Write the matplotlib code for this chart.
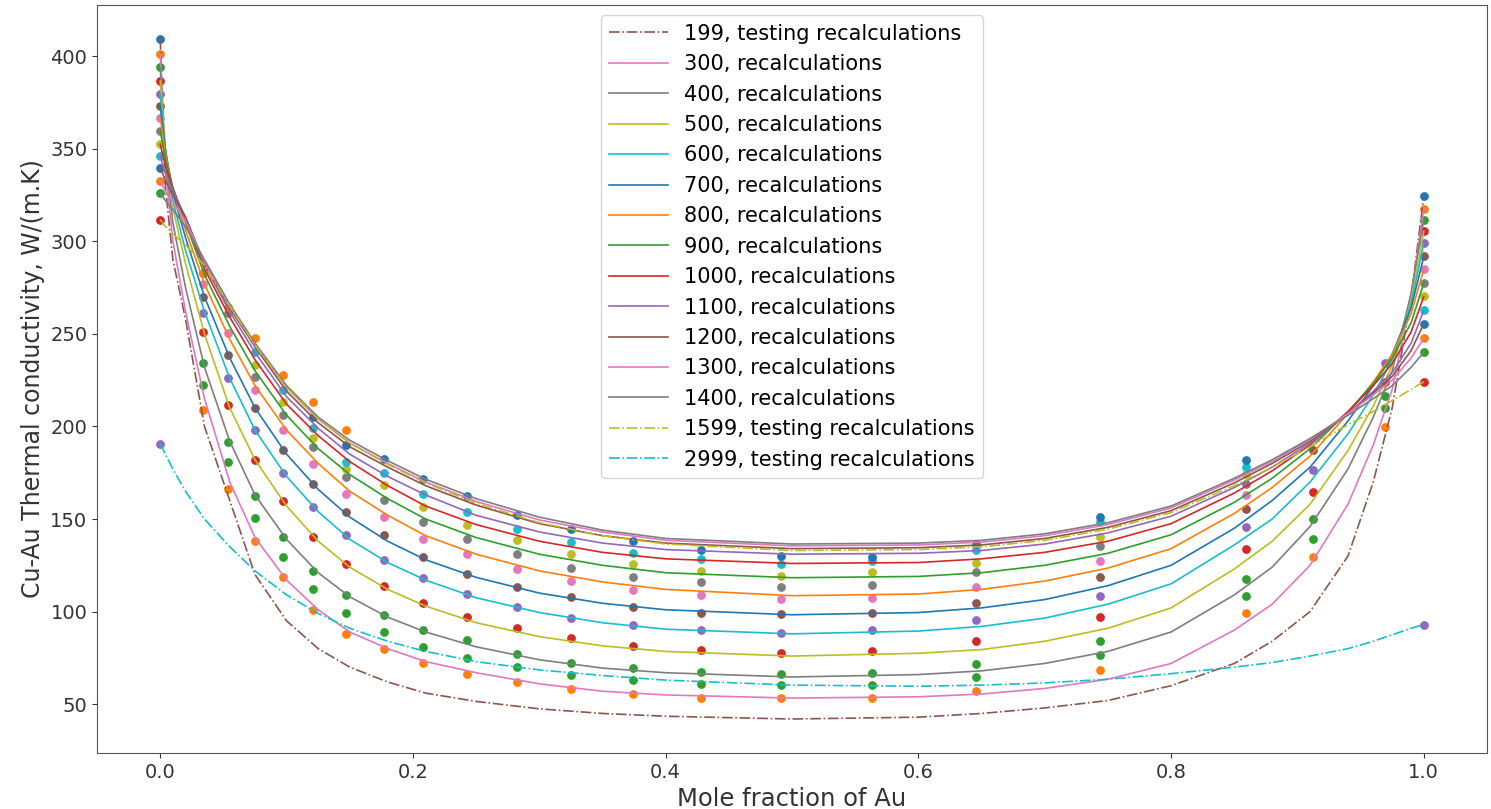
import numpy as np
import matplotlib
matplotlib.use("Agg")
import matplotlib.pyplot as plt

nan = np.nan

temps = [199, 300, 400, 500, 600, 700, 800, 900, 1000, 1100, 1200, 1300, 1400, 1599, 2999]
labels = ["199, testing recalculations", "300, recalculations", "400, recalculations",
          "500, recalculations", "600, recalculations", "700, recalculations",
          "800, recalculations", "900, recalculations", "1000, recalculations",
          "1100, recalculations", "1200, recalculations", "1300, recalculations",
          "1400, recalculations", "1599, testing recalculations",
          "2999, testing recalculations"]

# measured points, mole fraction of Au
x_pts = [0.0, 0.034, 0.054, 0.075, 0.097, 0.121, 0.147, 0.177, 0.208, 0.243, 0.282,
         0.325, 0.374, 0.428, 0.491, 0.563, 0.646, 0.744, 0.859, 0.912, 0.969, 1.0]

k_pts = {
    199:  [409.2, nan, nan, nan, nan, nan, nan, nan, nan, nan, nan,
           nan, nan, nan, nan, nan, nan, nan, nan, nan, nan, 324.3],
    300:  [401.1, 208.8, 166.4, 138.0, 118.5, 101.0, 88.0, 80.0, 72.4, 66.5, 62.2,
           58.0, 55.3, 53.5, 53.1, 53.5, 57.1, 68.3, 99.4, 129.3, 199.7, 317.5],
    400:  [393.9, 234.0, 191.6, 162.2, 140.5, 122.1, 109.0, 98.0, 90.0, 84.5, 77.3,
           72.4, 69.4, 67.6, 66.1, 66.7, 71.9, 84.2, 117.6, 150.1, 216.4, 311.7],
    500:  [386.6, 251.2, 211.5, 181.7, 159.6, 140.1, 125.7, 114.0, 104.4, 97.2, 91.1,
           85.6, 81.5, 79.1, 77.8, 78.7, 84.2, 97.2, 133.8, 164.5, 224.1, 305.4],
    600:  [379.4, 261.2, 226.0, 197.9, 174.8, 156.4, 141.1, 127.9, 118.1, 109.5, 102.6,
           96.8, 92.8, 90.0, 88.7, 90.0, 95.4, 108.6, 145.6, 176.6, 234.0, 299.1],
    700:  [373.1, 270.0, 238.6, 209.7, 187.5, 169.0, 153.7, 141.1, 129.7, 120.3, 113.4,
           107.7, 102.6, 99.5, 98.7, 99.5, 104.4, 118.5, 155.5, 187.1, nan, 291.8],
    800:  [366.8, 277.0, 250.3, 219.6, 198.0, 179.9, 163.6, 151.0, 139.3, 131.1, 123.0,
           116.7, 111.6, 109.1, 106.8, 107.6, 113.4, 127.5, 162.7, nan, nan, 285.0],
    900:  [359.5, 283.0, 261.1, 226.8, 206.1, 188.9, 172.6, 160.0, 148.3, 139.3, 131.2,
           123.6, 118.5, 115.8, 113.1, 114.5, 121.2, 135.3, 169.1, nan, nan, 277.4],
    1000: [352.3, nan, nan, 233.0, 213.3, 194.0, 177.0, 168.1, 156.4, 146.5, 138.4,
           131.1, 125.7, 121.7, 119.4, 121.2, 126.1, 140.1, 174.4, nan, nan, 270.2],
    1100: [346.0, nan, nan, 240.4, 219.6, 199.0, 181.0, 174.8, 163.6, 153.7, 144.7,
           137.4, 131.5, 128.4, 125.7, 127.5, 133.0, 148.3, 178.0, nan, nan, 262.6],
    1200: [339.7, nan, nan, nan, nan, 205.1, 189.8, 182.6, 171.8, 162.2, 151.9,
           144.7, 138.0, 133.3, 130.2, 129.3, 136.6, 150.9, 181.7, nan, nan, 255.4],
    1300: [332.5, 283.0, 264.7, 247.6, 227.7, 213.3, 197.9, nan, nan, nan, nan,
           nan, nan, nan, nan, nan, nan, nan, nan, nan, nan, 247.6],
    1400: [326.2, 222.3, 180.8, 150.6, 129.7, 112.0, 99.0, 89.0, 81.1, 74.8, 70.1,
           65.8, 62.9, 60.7, 60.3, 60.6, 64.7, 76.6, 108.6, 139.3, 209.7, 240.0],
    1599: [311.7, nan, nan, nan, nan, nan, nan, nan, nan, nan, nan,
           nan, nan, nan, nan, nan, nan, nan, nan, nan, nan, 224.1],
    2999: [190.7, nan, nan, nan, nan, nan, nan, nan, nan, nan, nan,
           nan, nan, nan, nan, nan, nan, nan, nan, nan, nan, 93.0],
}

# recalculated curves
x_fit = [0.0, 0.004, 0.01, 0.02, 0.035, 0.055, 0.075, 0.1, 0.125, 0.15, 0.18, 0.21, 0.25,
         0.3, 0.35, 0.4, 0.5, 0.6, 0.65, 0.7, 0.75, 0.8, 0.85, 0.88, 0.91, 0.94, 0.96,
         0.975, 0.99, 1.0]

k_fit = {
    199:  [409.2, 330, 290, 258, 200, 160, 120, 95, 80, 70, 62, 56, 51.5,
           47.5, 45, 43.5, 42, 43, 45, 48, 52, 60, 72, 84, 100, 130, 170,
           210, 270, 324.3],
    300:  [401.1, 340, 300, 262, 215, 170, 140, 117, 101, 89, 80, 73, 67,
           61, 57, 55, 53.3, 54, 55.5, 58.5, 63.5, 72, 90, 104, 125, 158, 190,
           220, 270, 317.5],
    400:  [393.9, 345, 310, 275, 232, 192, 163, 139, 121, 108, 97, 89, 81,
           74, 69.5, 67, 64.7, 66, 68, 72, 78.5, 89, 109, 124, 146, 177, 205,
           230, 272, 311.7],
    500:  [386.6, 350, 318, 288, 250, 210, 182, 157, 138, 124, 112, 103, 94,
           86.5, 81.5, 78.5, 76, 77.5, 79.5, 84, 91, 102, 123, 138, 158, 187, 211,
           233, 268, 305.4],
    600:  [379.4, 350, 322, 295, 262, 226, 198, 173, 154, 139, 126.5, 117, 107.5,
           99.5, 94, 90.5, 88, 89.5, 92, 96.5, 104, 115, 136, 150, 170, 196, 217,
           236, 266, 299.1],
    700:  [373.1, 350, 326, 302, 270, 237, 210, 185, 166, 151, 138, 128, 118.5,
           110, 104.5, 101, 98.3, 99.5, 102, 106.5, 114, 125, 145, 160, 178, 203, 222,
           239, 264, 291.8],
    800:  [366.8, 348, 328, 306, 277, 247, 222, 198, 180, 165, 152, 141, 131,
           122, 116, 112, 108.6, 109.5, 112, 116.5, 123.5, 134, 153, 167, 184, 207, 224,
           239, 261, 285.0],
    900:  [359.5, 345, 329, 310, 282, 254, 230, 206, 188, 174, 161, 150, 140,
           131, 125, 121, 118.3, 119, 121, 125, 131.5, 141.5, 159, 172, 188, 208, 223,
           237, 256, 277.4],
    1000: [352.3, 341, 328, 312, 285, 259, 236, 212, 195, 181, 168, 157, 147,
           138, 132, 128.5, 126, 126.5, 128.5, 132, 138, 147.5, 164, 176, 190, 208, 222,
           234, 251, 270.2],
    1100: [346.0, 337, 327, 313, 287, 262, 240, 216, 199, 185, 173, 163, 152,
           143, 137, 133.5, 131, 131.5, 133, 136.5, 142.5, 151.5, 167, 178, 191, 207, 219,
           229, 245, 262.6],
    1200: [339.7, 333, 325, 313, 288, 264, 243, 219, 202, 189, 178, 168, 157.5,
           147.5, 141, 137, 134, 134.5, 136, 139.5, 145.5, 154.5, 169.5, 180, 192, 207, 218,
           227, 241, 255.4],
    1300: [332.5, 327, 321, 311, 289, 265, 244, 221, 204, 191, 180, 170, 159.5,
           149.5, 143, 138.5, 135.5, 136, 137.5, 141, 147, 156, 171, 181, 193, 207, 217,
           225, 237, 247.6],
    1400: [326.2, 322, 317, 308, 290, 266, 245, 222, 205, 192.5, 181.5, 171.5, 161,
           151, 144, 139.5, 136.5, 137, 138.5, 142, 148, 157, 172, 182, 193.5, 206, 215,
           222, 232, 240.0],
    1599: [311.7, 308, 304, 298, 287, 265, 244, 221, 204, 191, 179.5, 169.5, 158.5,
           148, 141, 136.5, 133, 133.5, 135, 138.5, 144.5, 153.5, 168, 178, 189, 201, 208,
           214, 220, 224.1],
    2999: [190.7, 185, 177, 165, 150, 135, 122, 109, 99, 91, 84, 78.5, 73,
           68.5, 65.5, 63, 60.3, 59.7, 60.3, 61.5, 63.5, 66.5, 70, 72.5, 76, 80, 84,
           87.5, 91, 93.0],
}

testing = {199, 1599, 2999}

plt.rcParams['font.family'] = ['DejaVu Sans']
fig = plt.figure(figsize=(14.91, 8.09), dpi=100)
ax = fig.add_axes([0.0651, 0.0692, 0.9322, 0.9246])

# points take C0..C14 of the cycle, the curves carry on from C15
n = len(temps)
for i, t in enumerate(temps):
    ax.scatter(x_pts, k_pts[t], s=28, color='C%d' % (i % 10), zorder=2)
for i, (t, lab) in enumerate(zip(temps, labels)):
    ls = '-.' if t in testing else '-'
    ax.plot(x_fit, k_fit[t], ls, lw=1.2, color='C%d' % ((i + n) % 10),
            label=lab, zorder=3)

ax.set_xlabel('Mole fraction of Au', fontsize=17.5, color='#333333')
ax.set_ylabel('Cu-Au Thermal conductivity, W/(m.K)', fontsize=17, color='#333333')
ax.tick_params(labelsize=14, colors='#333333')
for sp in ax.spines.values():
    sp.set_color('#555555')
ax.legend(loc='upper center', fontsize=15, labelspacing=0.5, handlelength=2.8)

fig.savefig('out.png', dpi=100)
